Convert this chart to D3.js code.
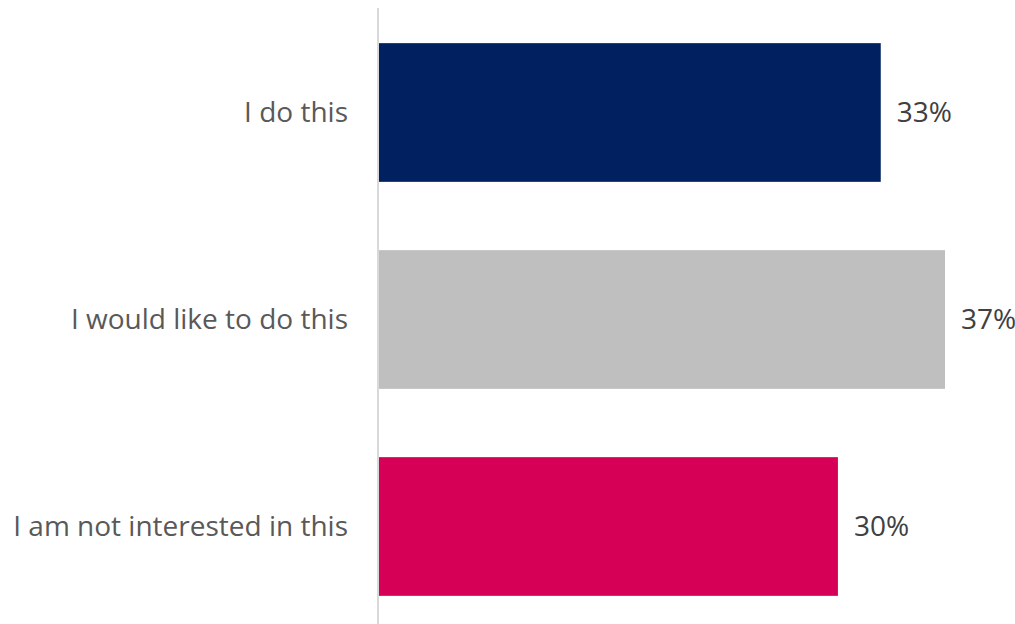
<!DOCTYPE html>
<html>
<head>
<meta charset="utf-8">
<script src="https://cdn.jsdelivr.net/npm/d3@7"></script>
<style>
  body { margin: 0; background: #fff; }
  svg { display: block; }
  text { font-family: "Open Sans", sans-serif; }
</style>
</head>
<body>
<svg id="chart" width="1015" height="624"></svg>
<script>
// chart data
const categories = ["I do this", "I would like to do this", "I am not interested in this"];
const values = [32.8, 37, 30];
const colors = ["#002060", "#bfbfbf", "#d60056"];

const svg = d3.select("#chart");

//Scales: x zero sits on the vertical axis line
const x = d3.scaleLinear().domain([0, 37]).range([379, 945]);
const y = d3.scaleBand().domain(categories).range([9, 630]).paddingInner(0.33).paddingOuter(0.165);

//Vertical axis line
svg.append("line")
  .attr("x1", 378).attr("x2", 378)
  .attr("y1", 8).attr("y2", 624)
  .attr("stroke", "#d9d9d9")
  .attr("stroke-width", 2);

//Bars
svg.selectAll(".bar")
  .data(categories)
  .join("rect")
  .attr("class", "bar")
  .attr("x", x(0))
  .attr("y", (d) => y(d))
  .attr("width", (d, i) => x(values[i]) - x(0))
  .attr("height", y.bandwidth())
  .attr("fill", (d, i) => colors[i]);

//Category labels
svg.selectAll(".cat")
  .data(categories)
  .join("text")
  .attr("class", "cat")
  .attr("x", 348)
  .attr("y", (d) => y(d) + y.bandwidth() / 2)
  .attr("dy", "0.35em")
  .attr("text-anchor", "end")
  .attr("fill", "#595959")
  .attr("font-size", 28)
  .text((d) => d);

//Value labels
svg.selectAll(".val")
  .data(categories)
  .join("text")
  .attr("class", "val")
  .attr("x", (d, i) => x(values[i]) + 16)
  .attr("y", (d) => y(d) + y.bandwidth() / 2)
  .attr("dy", "0.35em")
  .attr("fill", "#404040")
  .attr("font-size", 28)
  .text((d, i) => Math.round(values[i]) + "%");
</script>
</body>
</html>
